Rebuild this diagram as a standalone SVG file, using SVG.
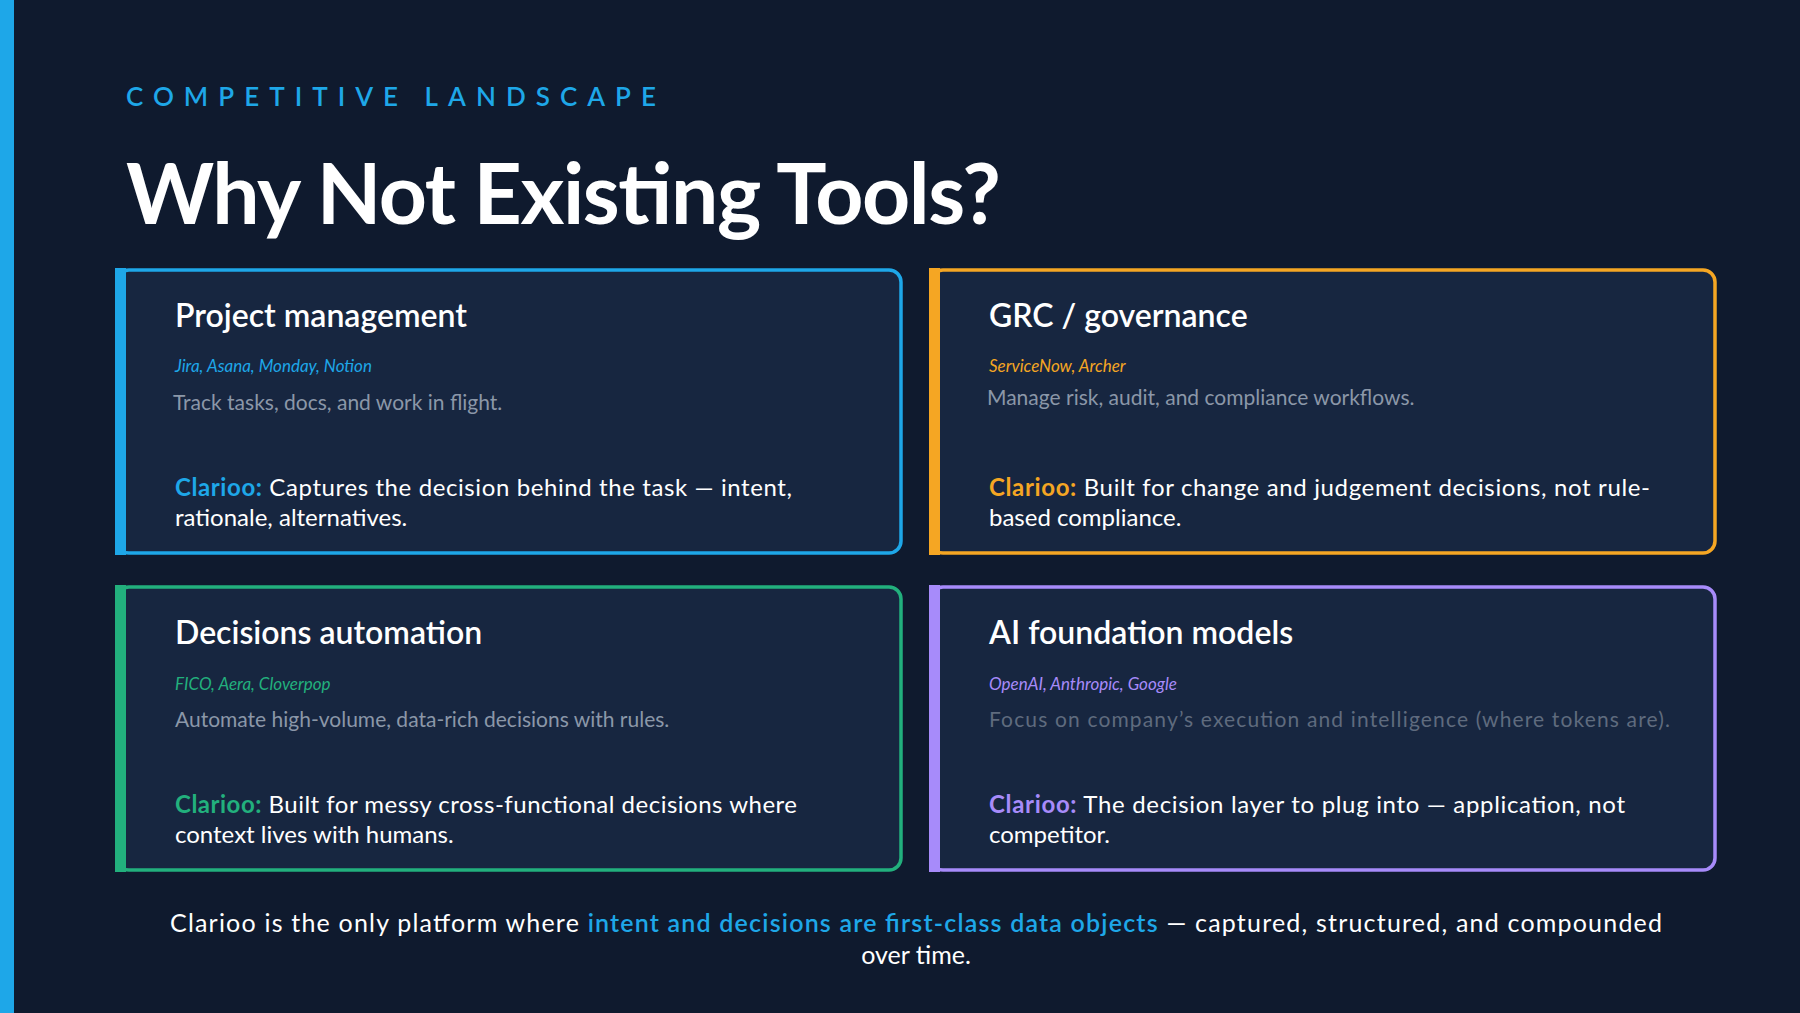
<svg xmlns="http://www.w3.org/2000/svg" width="1800" height="1013" viewBox="0 0 1800 1013">
<style>
text{font-family:Lato,"Open Sans","Liberation Sans",sans-serif}
.card{fill:#172640;stroke-width:3.5}
.t{fill:#fff;font-size:32px;font-weight:600}
.s{font-size:17px;font-style:italic}
.d{fill:#8b97a8;font-size:21px}
.c{fill:#fff;font-size:24px}
.b{font-weight:700}
</style>
<rect width="1800" height="1013" fill="#0f1a2e"/>
<rect width="14" height="1013" fill="#1ea7e8"/>
<text x="126" y="106" fill="#1ea7e8" font-size="26" font-weight="600" textLength="530" lengthAdjust="spacing">COMPETITIVE LANDSCAPE</text>
<text x="126" y="224" fill="#fff" font-size="84" font-weight="700" textLength="875">Why Not Existing Tools?</text>
<g id="pm">
<rect class="card" x="117" y="270" width="784" height="283" rx="12" stroke="#1ea7e8"/>
<rect x="115" y="268" width="11" height="287" fill="#1ea7e8"/>
<text class="t" x="175" y="327">Project management</text>
<text class="s" x="175" y="372" fill="#1ea7e8">Jira, Asana, Monday, Notion</text>
<text class="d" x="173" y="410">Track tasks, docs, and work in flight.</text>
<text class="c" x="175" y="496" textLength="617"><tspan class="b" fill="#1ea7e8">Clarioo:</tspan> Captures the decision behind the task — intent,</text>
<text class="c" x="175" y="526">rationale, alternatives.</text>
</g>
<g id="grc">
<rect class="card" x="931" y="270" width="784" height="283" rx="12" stroke="#f5a623"/>
<rect x="929" y="268" width="11" height="287" fill="#f5a623"/>
<text class="t" x="989" y="327">GRC / governance</text>
<text class="s" x="989" y="372" fill="#f5a623">ServiceNow, Archer</text>
<text class="d" x="987" y="405">Manage risk, audit, and compliance workflows.</text>
<text class="c" x="989" y="496" textLength="661"><tspan class="b" fill="#f5a623">Clarioo:</tspan> Built for change and judgement decisions, not rule-</text>
<text class="c" x="989" y="526">based compliance.</text>
</g>
<g id="da">
<rect class="card" x="117" y="587" width="784" height="283" rx="12" stroke="#22b07d"/>
<rect x="115" y="585" width="11" height="287" fill="#22b07d"/>
<text class="t" x="175" y="644">Decisions automation</text>
<text class="s" x="175" y="690" fill="#22b07d">FICO, Aera, Cloverpop</text>
<text class="d" x="175" y="727">Automate high-volume, data-rich decisions with rules.</text>
<text class="c" x="175" y="813" textLength="622"><tspan class="b" fill="#22b07d">Clarioo:</tspan> Built for messy cross-functional decisions where</text>
<text class="c" x="175" y="843">context lives with humans.</text>
</g>
<g id="ai">
<rect class="card" x="931" y="587" width="784" height="283" rx="12" stroke="#a78bfa"/>
<rect x="929" y="585" width="11" height="287" fill="#a78bfa"/>
<text class="t" x="989" y="644">AI foundation models</text>
<text class="s" x="989" y="690" fill="#a78bfa">OpenAI, Anthropic, Google</text>
<text class="d" x="989" y="727" fill="#5f6b7e" style="fill:#5f6b7e" textLength="681">Focus on company’s execution and intelligence (where tokens are).</text>
<text class="c" x="989" y="813" textLength="636"><tspan class="b" fill="#a78bfa">Clarioo:</tspan> The decision layer to plug into — application, not</text>
<text class="c" x="989" y="843">competitor.</text>
</g>
<text x="170" y="932" fill="#fff" font-size="25" textLength="1492">Clarioo is the only platform where <tspan fill="#1ea7e8" font-weight="600">intent and decisions are first-class data objects</tspan> — captured, structured, and compounded</text>
<text x="916" y="964" fill="#fff" font-size="25" text-anchor="middle">over time.</text>
</svg>
